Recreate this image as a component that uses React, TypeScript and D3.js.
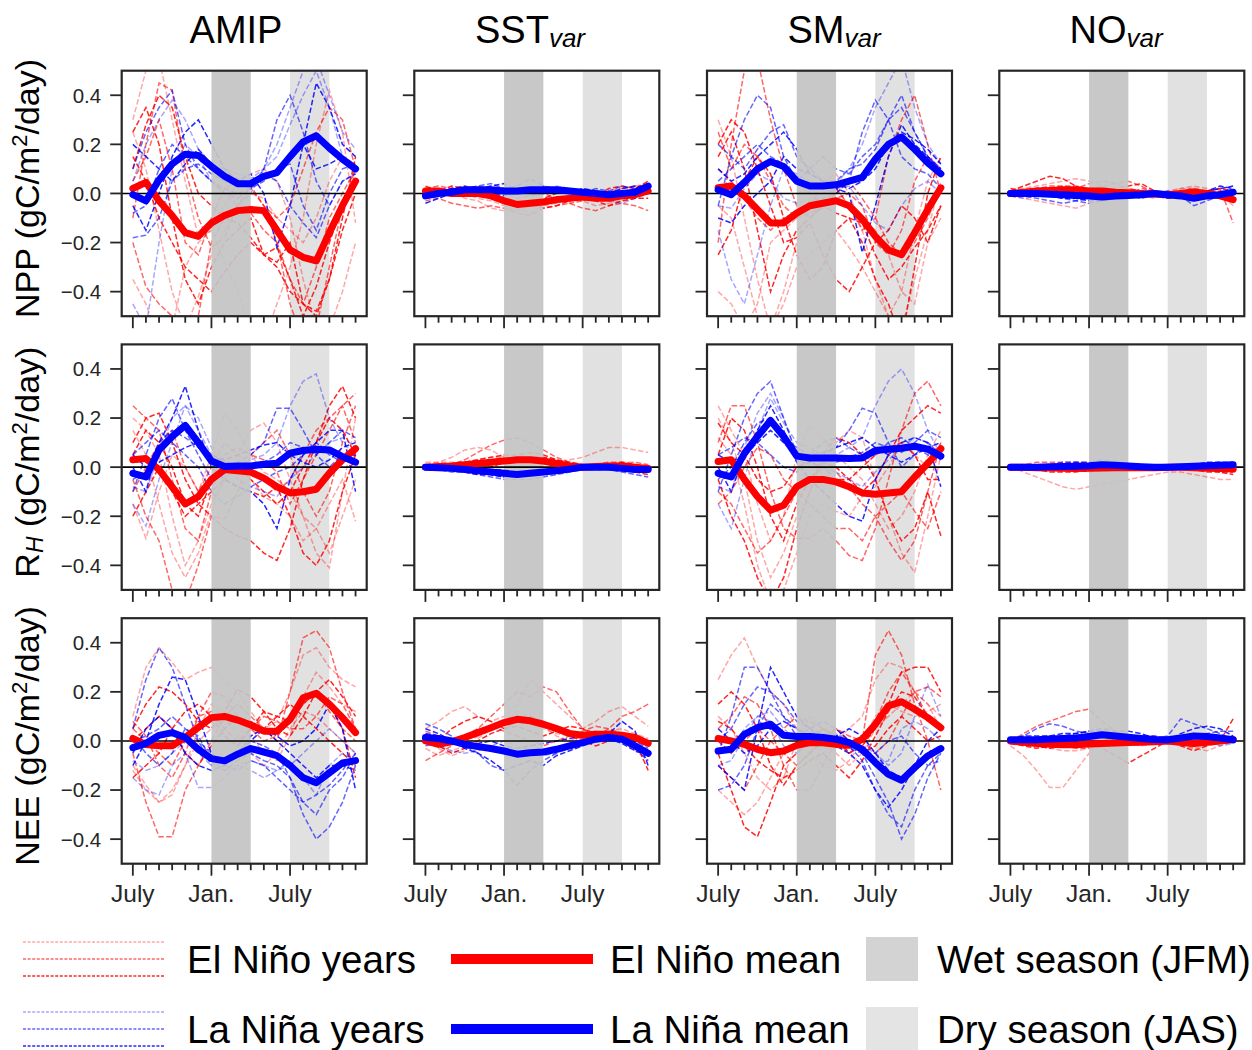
import React from 'react';
import * as d3 from 'd3';

// ---------------- DATA ----------------
const monthIndex = d3.range(18); // July .. December of following year
const xTickMonths = [0, 6, 12];
const xTickLabels = ['July', 'Jan.', 'July'];
const yTicks = [-0.4, -0.2, 0, 0.2, 0.4];
const yTickLabels = ['\u22120.4', '\u22120.2', '0.0', '0.2', '0.4'];
const wetSeason = [6, 9];
const drySeason = [12, 15];
const columnTitles = [
  { main: 'AMIP', sub: '' },
  { main: 'SST', sub: 'var' },
  { main: 'SM', sub: 'var' },
  { main: 'NO', sub: 'var' },
];
const rowLabels = [
  { main: 'NPP', sub: '' },
  { main: 'R', sub: 'H' },
  { main: 'NEE', sub: '' },
];
const legendItems = ['El Niño years', 'El Niño mean', 'Wet season (JFM)', 'La Niña years', 'La Niña mean', 'Dry season (JAS)'];

// ---- NPP ----
const nppAmipNinoMean = [0.02, 0.045, -0.03, -0.09, -0.16, -0.175, -0.12, -0.09, -0.07, -0.065, -0.07, -0.15, -0.23, -0.26, -0.275, -0.16, -0.05, 0.05];
const nppAmipNinaMean = [-0.005, -0.03, 0.055, 0.12, 0.16, 0.155, 0.11, 0.07, 0.04, 0.04, 0.07, 0.085, 0.15, 0.21, 0.235, 0.185, 0.14, 0.10];
const nppAmipNino = [
  [0.30, 0.50, 0.55, 0.30, 0.05, -0.18, -0.15, -0.28, -0.40, -0.55, -0.60, -0.45, -0.30, -0.10, 0.20, 0.42, 0.25, -0.12],
  [-0.10, 0.20, 0.45, 0.42, 0.10, -0.10, -0.22, -0.18, -0.05, 0.03, -0.05, -0.20, -0.45, -0.60, -0.55, -0.30, -0.05, 0.10],
  [0.25, 0.35, 0.20, -0.10, -0.35, -0.45, -0.30, -0.20, -0.15, -0.10, -0.25, -0.28, -0.20, -0.45, -0.50, -0.35, -0.10, 0.15],
  [-0.35, -0.45, -0.60, -0.55, -0.30, -0.20, -0.15, -0.05, 0.05, 0.08, 0.10, 0.05, -0.10, -0.35, -0.55, -0.55, -0.40, -0.20],
  [0.05, 0.15, 0.30, 0.10, -0.20, -0.25, -0.10, 0.02, 0.05, 0.02, -0.05, -0.10, -0.05, 0.10, 0.25, 0.35, 0.30, 0.10],
  [0.10, 0.28, 0.40, 0.35, 0.15, 0.00, -0.05, -0.10, -0.12, -0.18, -0.25, -0.22, -0.35, -0.50, -0.38, -0.20, -0.05, 0.05],
  [0.25, 0.10, -0.15, -0.40, -0.55, -0.42, -0.25, -0.15, -0.05, 0.00, -0.02, -0.10, -0.15, -0.20, -0.10, 0.05, 0.15, 0.12],
  [-0.20, -0.38, -0.45, -0.50, -0.60, -0.50, -0.20, -0.10, -0.05, -0.08, -0.15, -0.20, -0.35, -0.45, -0.30, -0.10, 0.00, 0.10],
  [0.15, 0.05, -0.10, -0.20, -0.30, -0.35, -0.40, -0.32, -0.25, -0.20, -0.25, -0.30, -0.40, -0.45, -0.48, -0.35, -0.15, 0.00],
];
const nppAmipNina = [
  [0.10, 0.25, 0.35, 0.42, 0.20, 0.10, 0.05, 0.00, -0.02, 0.02, 0.10, 0.30, 0.40, 0.25, 0.05, -0.05, 0.05, 0.08],
  [-0.05, -0.15, 0.00, 0.15, 0.25, 0.30, 0.20, 0.10, 0.05, 0.08, 0.00, -0.22, -0.05, 0.20, 0.45, 0.35, 0.20, 0.15],
  [-0.45, -0.55, -0.20, 0.10, 0.20, 0.15, 0.05, 0.00, -0.05, 0.00, 0.10, 0.20, 0.35, 0.50, 0.55, 0.40, 0.25, 0.18],
  [-0.18, -0.17, -0.10, 0.05, 0.10, 0.12, 0.08, 0.05, 0.03, 0.05, 0.08, 0.05, -0.05, -0.12, -0.18, -0.05, 0.05, 0.08],
  [0.20, 0.15, 0.10, 0.05, 0.12, 0.18, 0.12, 0.08, 0.06, 0.04, 0.06, 0.10, 0.15, 0.20, 0.10, 0.12, 0.15, 0.10],
  [0.05, 0.20, 0.30, 0.38, 0.30, 0.18, 0.12, 0.10, 0.08, 0.06, 0.10, 0.15, 0.28, 0.40, 0.50, 0.35, 0.15, 0.08],
  [-0.08, -0.05, 0.10, 0.20, 0.15, 0.10, 0.05, 0.02, 0.00, 0.02, 0.05, 0.10, 0.12, -0.05, -0.15, 0.00, 0.10, 0.12],
];

const nppSstNinoMean = [0.01, 0.01, 0.0, 0.0, 0.0, -0.01, -0.03, -0.045, -0.04, -0.035, -0.025, -0.02, -0.015, -0.02, -0.02, -0.01, -0.005, 0.01];
const nppSstNinaMean = [-0.01, 0.0, 0.005, 0.015, 0.015, 0.015, 0.01, 0.01, 0.015, 0.015, 0.015, 0.01, 0.005, 0.0, -0.005, 0.0, 0.005, 0.03];
const nppSstNino = [
  [0.02, 0.03, 0.02, 0.00, -0.02, -0.03, -0.05, -0.07, -0.05, -0.03, -0.04, -0.02, -0.03, -0.05, -0.04, -0.03, -0.02, 0.02],
  [-0.03, -0.02, -0.04, -0.05, -0.06, -0.05, -0.06, -0.08, -0.09, -0.06, -0.05, -0.04, -0.06, -0.07, -0.05, -0.04, -0.05, -0.07],
  [0.03, 0.01, 0.02, 0.03, 0.01, -0.02, -0.04, -0.05, -0.03, -0.02, 0.00, 0.01, 0.00, -0.01, 0.02, 0.03, 0.02, 0.05],
  [0.00, 0.02, 0.01, -0.02, -0.03, -0.06, -0.07, -0.06, -0.08, -0.05, -0.04, -0.03, -0.01, -0.02, -0.03, -0.01, 0.01, 0.03],
  [0.01, 0.00, -0.01, 0.02, 0.03, 0.02, 0.00, -0.02, -0.01, 0.00, -0.02, -0.04, -0.03, -0.01, 0.00, 0.02, 0.03, 0.01],
  [-0.01, 0.01, 0.03, 0.02, 0.00, -0.01, -0.02, -0.03, -0.04, -0.06, -0.05, -0.03, -0.02, -0.03, -0.05, -0.03, -0.02, -0.02],
  [0.02, 0.03, 0.02, 0.01, 0.00, -0.02, -0.03, -0.04, -0.03, -0.04, -0.03, -0.02, -0.01, 0.00, 0.01, 0.02, 0.03, 0.04],
];
const nppSstNina = [
  [-0.02, -0.01, 0.01, 0.02, 0.03, 0.04, 0.02, 0.03, 0.06, 0.03, 0.02, 0.01, 0.00, -0.01, -0.02, -0.01, 0.01, 0.03],
  [-0.04, -0.02, 0.00, 0.01, 0.02, 0.03, 0.04, 0.01, 0.02, 0.03, 0.01, 0.00, 0.02, 0.01, 0.00, 0.02, 0.03, 0.02],
  [0.00, 0.01, 0.02, 0.03, 0.02, 0.00, 0.01, 0.02, 0.00, 0.01, 0.03, 0.02, 0.01, -0.01, -0.03, -0.04, -0.02, 0.00],
  [-0.01, 0.02, 0.01, 0.00, 0.01, 0.02, 0.00, 0.00, 0.02, 0.02, 0.01, 0.02, 0.00, 0.02, 0.01, 0.03, 0.02, 0.04],
  [0.01, 0.00, 0.02, 0.02, 0.01, 0.00, -0.01, 0.01, 0.02, 0.02, 0.02, 0.01, 0.00, -0.01, 0.00, -0.02, 0.00, 0.01],
];

const nppSmNinoMean = [0.023, 0.03, -0.01, -0.065, -0.12, -0.12, -0.08, -0.05, -0.04, -0.03, -0.05, -0.105, -0.175, -0.23, -0.25, -0.16, -0.065, 0.023];
const nppSmNinaMean = [0.015, -0.005, 0.045, 0.10, 0.13, 0.11, 0.05, 0.03, 0.03, 0.035, 0.05, 0.065, 0.14, 0.20, 0.23, 0.18, 0.125, 0.08];
const nppSmNino = [
  [0.30, 0.15, -0.10, -0.35, -0.55, -0.45, -0.30, -0.25, -0.20, -0.15, -0.22, -0.30, -0.40, -0.50, -0.55, -0.35, -0.15, 0.05],
  [-0.20, 0.20, 0.50, 0.55, 0.30, 0.10, -0.05, -0.10, -0.05, 0.02, -0.05, -0.15, -0.10, 0.15, 0.30, 0.40, 0.20, 0.00],
  [0.15, 0.25, 0.10, -0.15, -0.40, -0.25, -0.15, -0.10, -0.05, -0.08, -0.10, -0.20, -0.35, -0.45, -0.60, -0.30, 0.00, 0.15],
  [-0.40, -0.45, -0.55, -0.45, -0.20, -0.15, -0.10, -0.05, 0.00, 0.02, -0.05, -0.10, -0.15, -0.25, -0.40, -0.45, -0.20, -0.10],
  [0.25, 0.10, 0.20, 0.15, 0.05, -0.05, -0.10, -0.08, -0.06, -0.02, 0.00, -0.05, -0.20, -0.25, -0.15, 0.05, 0.15, 0.08],
  [0.20, 0.30, 0.25, 0.10, -0.05, -0.20, -0.18, -0.12, -0.25, -0.35, -0.40, -0.30, -0.20, -0.15, -0.05, -0.10, -0.20, -0.05],
  [-0.05, -0.10, -0.30, -0.50, -0.55, -0.40, -0.20, -0.05, 0.05, 0.08, 0.00, -0.15, -0.35, -0.50, -0.40, -0.15, 0.05, 0.15],
  [0.10, 0.05, -0.02, -0.10, -0.15, -0.10, -0.08, -0.03, -0.02, 0.00, 0.05, -0.02, -0.10, -0.20, -0.25, -0.20, -0.10, 0.02],
  [-0.25, -0.15, 0.05, 0.15, 0.08, -0.10, -0.25, -0.35, -0.30, -0.15, -0.10, -0.12, -0.25, -0.35, -0.30, -0.22, -0.15, -0.05],
];
const nppSmNina = [
  [-0.05, 0.15, 0.30, 0.40, 0.35, 0.15, 0.05, 0.00, -0.05, 0.00, 0.05, 0.25, 0.38, 0.30, 0.15, 0.10, 0.08, 0.02],
  [-0.10, -0.12, -0.05, 0.00, 0.05, 0.15, 0.10, 0.08, 0.05, 0.02, 0.00, -0.24, -0.05, 0.15, 0.28, 0.20, 0.15, 0.10],
  [-0.15, -0.35, -0.45, -0.25, -0.05, 0.10, 0.08, 0.05, 0.02, 0.04, 0.10, 0.20, 0.35, 0.45, 0.55, 0.35, 0.20, 0.12],
  [0.20, 0.15, 0.10, 0.18, 0.25, 0.28, 0.15, 0.10, 0.05, 0.05, 0.10, 0.12, 0.18, 0.30, 0.40, 0.25, 0.15, 0.10],
  [0.10, 0.05, 0.08, 0.15, 0.20, 0.25, 0.18, 0.08, 0.05, 0.04, 0.02, 0.05, 0.10, 0.20, 0.25, 0.22, 0.18, 0.12],
  [-0.05, -0.06, 0.02, 0.08, 0.05, -0.02, -0.04, -0.02, 0.00, 0.02, 0.03, -0.05, -0.12, -0.15, -0.05, 0.02, 0.05, 0.00],
  [0.05, 0.10, 0.15, 0.20, 0.15, 0.12, 0.05, 0.10, 0.15, 0.10, 0.08, 0.15, 0.20, 0.30, 0.35, 0.25, 0.15, 0.08],
];

const nppNoNinoMean = [0.0, 0.005, 0.01, 0.012, 0.015, 0.015, 0.01, 0.01, 0.005, 0.003, 0.0, -0.002, -0.005, 0.0, 0.005, 0.0, -0.01, -0.025];
const nppNoNinaMean = [0.0, 0.0, 0.0, -0.003, -0.005, -0.008, -0.01, -0.015, -0.01, -0.008, -0.005, 0.0, -0.005, -0.01, -0.02, -0.01, -0.005, 0.005];
const nppNoNino = [
  [0.01, 0.02, 0.03, 0.04, 0.05, 0.06, 0.05, 0.03, 0.04, 0.02, 0.00, 0.01, 0.00, 0.02, 0.03, 0.02, 0.00, -0.05],
  [0.00, 0.01, 0.02, 0.03, 0.03, 0.02, 0.04, 0.05, 0.04, 0.05, 0.03, 0.00, -0.01, 0.01, 0.02, 0.01, 0.02, -0.12],
  [0.01, 0.03, 0.05, 0.07, 0.06, 0.03, 0.01, 0.00, 0.01, 0.02, 0.01, 0.00, -0.02, -0.01, 0.00, 0.01, 0.02, 0.01],
  [-0.01, -0.02, -0.03, -0.04, -0.05, -0.06, -0.04, -0.02, -0.01, 0.00, -0.01, -0.02, 0.00, 0.01, 0.02, 0.01, 0.00, -0.01],
  [0.00, 0.01, 0.02, 0.02, 0.03, 0.03, 0.02, 0.03, 0.01, 0.00, 0.02, 0.01, -0.01, 0.00, 0.01, -0.01, -0.02, -0.03],
  [0.02, 0.01, 0.00, 0.01, 0.02, 0.01, 0.00, 0.01, 0.02, 0.03, 0.04, 0.01, 0.00, -0.01, -0.02, 0.00, 0.01, 0.00],
  [0.00, 0.00, 0.01, 0.02, 0.00, -0.01, 0.00, 0.01, 0.00, -0.01, -0.02, -0.01, 0.01, 0.02, 0.02, 0.01, 0.00, -0.02],
];
const nppNoNina = [
  [0.00, -0.01, -0.02, -0.03, -0.04, -0.03, -0.02, -0.03, -0.02, -0.01, -0.02, 0.00, 0.01, -0.01, -0.05, -0.03, -0.01, 0.00],
  [0.00, 0.01, 0.00, -0.01, -0.02, -0.02, -0.03, -0.03, -0.02, -0.01, 0.00, 0.01, 0.00, -0.01, -0.02, 0.01, 0.03, 0.02],
  [-0.01, -0.02, -0.01, 0.00, 0.01, 0.00, -0.01, 0.00, -0.01, -0.02, -0.01, 0.00, -0.01, -0.02, -0.01, -0.01, 0.00, 0.01],
  [0.01, 0.00, -0.01, -0.01, -0.02, -0.03, -0.04, -0.03, -0.02, -0.01, 0.00, -0.01, 0.00, 0.00, -0.02, -0.02, -0.01, -0.02],
  [0.00, 0.01, 0.02, 0.02, 0.01, 0.00, 0.00, -0.01, 0.00, 0.01, 0.00, -0.01, -0.02, -0.01, 0.00, 0.01, 0.02, 0.03],
];

// ---- RH ----
const rhAmipNinoMean = [0.03, 0.035, -0.01, -0.08, -0.15, -0.12, -0.05, -0.01, -0.015, -0.02, -0.045, -0.08, -0.105, -0.10, -0.09, -0.025, 0.03, 0.075];
const rhAmipNinaMean = [-0.025, -0.04, 0.07, 0.125, 0.17, 0.10, 0.025, 0.003, 0.005, 0.005, 0.012, 0.016, 0.057, 0.068, 0.073, 0.07, 0.043, 0.02];
const rhAmipNino = [
  [0.20, 0.15, 0.05, -0.20, -0.40, -0.30, -0.15, -0.05, 0.05, 0.15, 0.18, 0.10, -0.05, -0.20, -0.35, -0.41, -0.10, 0.20],
  [-0.05, -0.20, -0.30, -0.50, -0.55, -0.40, -0.20, -0.21, -0.10, 0.05, 0.10, 0.15, 0.05, -0.10, -0.20, -0.10, 0.10, 0.25],
  [0.10, 0.20, 0.22, 0.10, -0.05, -0.15, -0.20, -0.25, -0.28, -0.30, -0.35, -0.38, -0.25, -0.05, 0.10, 0.25, 0.33, 0.20],
  [-0.15, -0.29, -0.10, 0.05, 0.00, -0.10, 0.05, 0.22, 0.15, 0.05, -0.02, -0.05, -0.10, -0.20, -0.25, -0.35, -0.20, -0.05],
  [0.25, 0.20, 0.15, -0.05, -0.25, -0.30, -0.10, 0.05, 0.08, 0.05, 0.03, -0.02, -0.15, -0.05, 0.05, 0.15, 0.25, 0.10],
  [0.05, 0.15, 0.10, 0.00, -0.15, -0.20, -0.05, 0.02, 0.00, -0.05, -0.10, -0.15, -0.10, 0.00, 0.10, 0.20, 0.15, 0.05],
  [0.15, 0.05, -0.15, -0.35, -0.45, -0.35, -0.18, -0.05, 0.00, -0.05, -0.12, -0.15, -0.20, -0.30, -0.25, -0.15, -0.05, -0.22],
  [-0.10, 0.00, 0.10, 0.15, 0.00, -0.10, 0.00, 0.10, 0.05, 0.00, -0.05, -0.10, -0.05, 0.05, 0.15, 0.20, 0.25, 0.30],
  [-0.20, -0.10, 0.00, -0.10, -0.20, -0.15, -0.10, -0.05, -0.08, -0.10, -0.12, -0.08, -0.20, -0.35, -0.40, -0.30, -0.10, 0.05],
];
const rhAmipNina = [
  [-0.10, 0.05, 0.20, 0.28, 0.15, 0.05, -0.05, -0.02, 0.02, 0.05, 0.10, 0.24, 0.24, 0.15, 0.05, 0.00, 0.05, 0.05],
  [0.00, -0.10, 0.10, 0.20, 0.33, 0.15, 0.00, -0.05, -0.08, -0.10, -0.15, -0.25, -0.05, 0.05, 0.10, 0.15, 0.15, -0.10],
  [-0.15, -0.24, -0.05, 0.10, 0.25, 0.15, 0.05, 0.02, 0.00, 0.03, 0.05, 0.10, 0.25, 0.35, 0.38, 0.20, 0.10, 0.05],
  [-0.05, -0.02, 0.10, 0.15, 0.12, 0.08, 0.05, 0.02, 0.01, 0.00, 0.02, 0.05, 0.10, 0.08, 0.05, 0.10, 0.15, 0.12],
  [0.05, 0.00, 0.02, 0.05, 0.08, 0.10, 0.05, 0.03, 0.05, 0.07, 0.09, 0.10, 0.05, 0.02, 0.00, 0.03, 0.08, 0.10],
  [-0.08, -0.10, 0.05, 0.20, 0.25, 0.20, 0.08, 0.00, -0.05, -0.08, -0.10, -0.12, -0.05, 0.00, 0.05, 0.10, 0.12, 0.08],
  [0.05, 0.10, 0.15, 0.10, 0.05, 0.00, -0.10, -0.15, -0.12, -0.08, -0.05, -0.02, 0.00, 0.05, 0.10, 0.05, 0.02, 0.05],
];

const rhSstNinoMean = [0.0, 0.003, 0.005, 0.01, 0.015, 0.02, 0.025, 0.03, 0.03, 0.025, 0.015, 0.005, 0.0, 0.003, 0.005, 0.005, 0.0, -0.005];
const rhSstNinaMean = [0.0, -0.002, -0.005, -0.01, -0.015, -0.02, -0.025, -0.03, -0.025, -0.02, -0.015, -0.008, 0.0, 0.0, 0.0, -0.005, -0.01, -0.01];
const rhSstNino = [
  [0.02, 0.02, 0.04, 0.07, 0.08, 0.07, 0.04, 0.03, 0.02, 0.01, 0.02, 0.03, 0.04, 0.06, 0.08, 0.08, 0.07, 0.06],
  [0.00, 0.00, 0.01, 0.03, 0.06, 0.09, 0.11, 0.12, 0.10, 0.07, 0.04, 0.02, 0.01, 0.01, 0.02, 0.02, 0.01, 0.00],
  [0.01, 0.01, 0.01, 0.02, 0.03, 0.04, 0.05, 0.05, 0.06, 0.05, 0.03, 0.01, 0.00, 0.01, 0.01, 0.02, 0.01, 0.00],
  [-0.01, 0.00, 0.00, 0.01, 0.02, 0.03, 0.04, 0.05, 0.04, 0.03, 0.02, 0.01, 0.00, 0.00, 0.01, 0.01, 0.02, 0.01],
  [0.00, -0.01, -0.01, 0.00, 0.01, 0.01, 0.02, 0.02, 0.03, 0.03, 0.02, 0.01, 0.00, 0.00, 0.00, -0.01, -0.01, -0.02],
  [0.00, 0.01, 0.00, -0.01, -0.01, 0.00, 0.02, 0.03, 0.04, 0.04, 0.03, 0.02, 0.01, 0.01, 0.00, 0.00, -0.02, -0.03],
  [0.01, 0.02, 0.02, 0.02, 0.03, 0.04, 0.04, 0.04, 0.03, 0.02, 0.01, 0.00, -0.01, 0.00, 0.01, 0.02, 0.02, 0.01],
];
const rhSstNina = [
  [0.00, -0.01, -0.02, -0.02, -0.03, -0.04, -0.05, -0.05, -0.05, -0.04, -0.03, -0.02, -0.01, -0.01, -0.01, -0.02, -0.03, -0.04],
  [0.01, 0.00, -0.01, -0.02, -0.03, -0.03, -0.04, -0.04, -0.03, -0.02, -0.01, 0.00, 0.00, 0.01, 0.00, -0.01, -0.02, -0.02],
  [-0.01, -0.01, -0.01, -0.01, -0.01, -0.02, -0.02, -0.03, -0.02, -0.01, -0.01, -0.01, 0.00, 0.00, 0.01, 0.00, 0.00, 0.00],
  [0.00, 0.01, 0.00, 0.00, -0.01, -0.01, -0.01, -0.02, -0.02, -0.02, -0.01, 0.00, 0.01, 0.01, 0.01, 0.01, 0.00, -0.01],
  [0.00, -0.01, -0.01, -0.02, -0.02, -0.03, -0.04, -0.04, -0.03, -0.03, -0.02, -0.01, -0.01, 0.00, 0.00, -0.01, -0.01, -0.02],
];

const rhSmNinoMean = [0.023, 0.03, -0.05, -0.12, -0.175, -0.155, -0.08, -0.05, -0.05, -0.06, -0.08, -0.105, -0.11, -0.105, -0.10, -0.04, 0.015, 0.075];
const rhSmNinaMean = [-0.025, -0.04, 0.055, 0.125, 0.19, 0.125, 0.045, 0.037, 0.037, 0.037, 0.035, 0.037, 0.068, 0.073, 0.077, 0.085, 0.073, 0.045];
const rhSmNino = [
  [0.20, 0.10, -0.05, -0.30, -0.45, -0.35, -0.20, -0.10, 0.00, 0.10, 0.15, 0.12, -0.05, -0.20, -0.35, -0.43, -0.20, 0.05],
  [0.10, 0.25, 0.25, 0.10, -0.10, -0.25, -0.29, -0.29, -0.25, -0.30, -0.36, -0.38, -0.25, -0.05, 0.15, 0.30, 0.35, 0.25],
  [-0.05, -0.20, -0.30, -0.45, -0.55, -0.45, -0.25, -0.10, 0.05, 0.12, 0.10, 0.05, -0.05, -0.20, -0.30, -0.25, -0.10, -0.28],
  [0.25, 0.15, 0.05, -0.15, -0.30, -0.20, 0.05, 0.17, 0.12, 0.05, 0.00, -0.05, -0.15, -0.25, -0.20, -0.10, 0.05, 0.15],
  [-0.15, -0.10, 0.00, 0.08, 0.05, -0.05, -0.10, -0.05, 0.00, -0.02, -0.08, -0.15, -0.20, -0.30, -0.38, -0.30, -0.10, 0.10],
  [0.05, 0.20, 0.15, 0.00, -0.20, -0.30, -0.15, -0.05, 0.02, 0.00, -0.05, -0.10, -0.05, 0.05, 0.15, 0.20, 0.25, 0.22],
  [0.12, 0.05, -0.15, -0.40, -0.55, -0.50, -0.35, -0.20, -0.15, -0.18, -0.20, -0.12, -0.08, 0.00, 0.10, 0.05, 0.00, 0.10],
  [-0.10, -0.15, -0.25, -0.35, -0.30, -0.20, -0.10, -0.15, -0.20, -0.25, -0.25, -0.30, -0.20, -0.15, -0.10, -0.18, -0.25, -0.10],
  [0.18, 0.10, 0.05, -0.05, -0.10, -0.08, 0.00, 0.02, 0.00, -0.05, -0.05, 0.00, 0.05, 0.08, 0.10, 0.05, -0.05, -0.05],
];
const rhSmNina = [
  [-0.10, 0.05, 0.20, 0.30, 0.35, 0.20, 0.05, 0.02, 0.05, 0.08, 0.15, 0.24, 0.22, 0.10, 0.00, 0.05, 0.10, 0.05],
  [0.00, -0.10, 0.05, 0.15, 0.25, 0.15, 0.02, -0.05, -0.10, -0.15, -0.20, -0.22, -0.05, 0.05, 0.10, 0.12, 0.10, -0.08],
  [-0.15, -0.25, -0.05, 0.15, 0.28, 0.18, 0.10, 0.08, 0.05, 0.05, 0.08, 0.12, 0.25, 0.35, 0.40, 0.30, 0.15, 0.05],
  [-0.05, 0.00, 0.10, 0.18, 0.20, 0.12, 0.08, 0.05, 0.03, 0.02, 0.04, 0.06, 0.10, 0.08, 0.06, 0.10, 0.15, 0.12],
  [0.05, 0.02, 0.05, 0.10, 0.15, 0.10, 0.05, 0.05, 0.06, 0.08, 0.10, 0.12, 0.08, 0.05, 0.02, 0.05, 0.08, 0.10],
  [-0.08, -0.10, 0.08, 0.22, 0.30, 0.20, 0.05, 0.02, 0.00, -0.02, -0.05, -0.08, -0.02, 0.03, 0.08, 0.12, 0.10, 0.06],
  [0.05, 0.08, 0.12, 0.10, 0.05, 0.00, -0.02, 0.05, 0.10, 0.12, 0.08, 0.05, 0.05, 0.10, 0.12, 0.08, 0.05, 0.03],
];

const rhNoNinoMean = [0.0, 0.0, -0.002, -0.003, -0.004, -0.005, -0.004, -0.003, -0.002, -0.002, -0.002, -0.002, 0.0, 0.0, -0.002, -0.004, -0.006, -0.008];
const rhNoNinaMean = [0.0, 0.0, 0.0, 0.002, 0.003, 0.004, 0.006, 0.01, 0.008, 0.005, 0.002, 0.0, 0.0, 0.002, 0.004, 0.006, 0.008, 0.01];
const rhNoNino = [
  [0.00, -0.02, -0.04, -0.06, -0.08, -0.09, -0.08, -0.07, -0.06, -0.05, -0.04, -0.03, -0.02, -0.02, -0.03, -0.04, -0.05, -0.05],
  [0.01, 0.01, 0.02, 0.02, 0.02, 0.02, 0.02, 0.02, 0.01, 0.01, 0.00, 0.00, 0.00, 0.00, 0.00, -0.01, -0.01, -0.01],
  [0.00, 0.00, -0.01, -0.01, -0.01, -0.01, -0.02, -0.01, -0.01, 0.00, 0.00, 0.00, 0.00, -0.01, -0.01, -0.02, -0.02, -0.02],
  [-0.01, 0.00, 0.00, 0.01, 0.01, 0.01, 0.00, 0.00, 0.00, -0.01, -0.01, 0.00, 0.00, 0.00, 0.01, 0.00, -0.01, -0.02],
  [0.00, 0.00, 0.00, 0.00, -0.01, -0.01, -0.01, -0.02, -0.01, -0.01, 0.00, 0.00, 0.01, 0.00, 0.00, 0.00, 0.00, 0.00],
  [0.00, -0.01, -0.01, -0.02, -0.02, -0.02, -0.01, 0.00, 0.00, 0.00, -0.01, -0.01, 0.00, 0.00, -0.01, -0.01, -0.02, -0.03],
  [0.00, 0.01, 0.01, 0.00, 0.00, 0.00, 0.01, 0.01, 0.01, 0.00, 0.00, 0.00, 0.00, 0.01, 0.01, 0.01, 0.00, -0.01],
];
const rhNoNina = [
  [0.00, 0.00, 0.01, 0.01, 0.01, 0.02, 0.02, 0.03, 0.02, 0.01, 0.01, 0.00, 0.00, 0.00, 0.01, 0.01, 0.02, 0.02],
  [0.00, 0.00, 0.00, 0.00, 0.00, 0.00, 0.01, 0.01, 0.01, 0.00, 0.00, 0.00, 0.00, 0.01, 0.01, 0.02, 0.02, 0.01],
  [0.01, 0.00, -0.01, -0.01, -0.01, 0.00, 0.00, 0.01, 0.01, 0.01, 0.00, -0.01, 0.00, 0.00, 0.00, 0.00, 0.01, 0.02],
  [0.00, 0.01, 0.01, 0.01, 0.02, 0.02, 0.01, 0.01, 0.00, 0.00, 0.00, 0.00, 0.01, 0.00, 0.00, 0.01, 0.00, 0.00],
  [0.00, 0.00, 0.00, 0.01, 0.00, 0.00, 0.00, 0.01, 0.01, 0.01, 0.01, 0.01, 0.00, 0.00, 0.01, 0.00, 0.00, 0.01],
];

// ---- NEE ----
const neeAmipNinoMean = [0.01, -0.015, -0.02, -0.02, 0.015, 0.055, 0.095, 0.10, 0.085, 0.065, 0.04, 0.04, 0.088, 0.176, 0.194, 0.15, 0.095, 0.034];
const neeAmipNinaMean = [-0.027, -0.01, 0.023, 0.034, 0.014, -0.034, -0.072, -0.081, -0.054, -0.031, -0.045, -0.06, -0.10, -0.15, -0.17, -0.13, -0.09, -0.08];
const neeAmipNino = [
  [0.10, 0.30, 0.38, 0.32, 0.25, 0.28, 0.30, 0.25, 0.20, 0.12, 0.05, 0.08, 0.20, 0.35, 0.38, 0.30, 0.25, 0.22],
  [-0.05, -0.25, -0.39, -0.39, -0.20, -0.10, 0.00, 0.10, 0.15, 0.10, 0.05, 0.00, 0.20, 0.42, 0.45, 0.38, 0.20, 0.05],
  [0.05, 0.15, 0.22, 0.20, 0.15, 0.08, 0.05, 0.12, 0.21, 0.18, 0.12, 0.05, 0.02, 0.10, 0.20, 0.25, 0.18, 0.10],
  [-0.10, -0.18, -0.25, -0.22, -0.10, 0.05, 0.15, 0.10, 0.02, -0.05, -0.10, -0.05, 0.05, 0.12, 0.10, 0.05, 0.00, -0.05],
  [0.08, 0.02, -0.10, -0.15, -0.05, 0.10, 0.20, 0.18, 0.10, 0.05, 0.00, 0.02, 0.08, 0.15, 0.20, 0.12, 0.05, 0.00],
  [0.00, 0.05, 0.10, 0.05, -0.05, -0.10, -0.02, 0.05, 0.10, 0.08, 0.05, 0.10, 0.15, 0.10, 0.05, 0.00, -0.05, -0.10],
  [-0.12, -0.20, -0.25, -0.20, -0.10, 0.00, 0.05, 0.08, 0.05, 0.02, -0.05, -0.08, 0.02, 0.18, 0.28, 0.22, 0.15, 0.12],
  [0.05, 0.00, -0.05, -0.10, 0.00, 0.10, 0.12, 0.05, 0.00, 0.05, 0.10, 0.08, 0.05, 0.05, 0.10, 0.18, 0.15, 0.05],
  [-0.15, -0.10, -0.05, 0.05, 0.12, 0.15, 0.10, 0.02, -0.02, 0.05, 0.12, 0.10, 0.08, 0.15, 0.20, 0.15, 0.05, -0.15],
];
const neeAmipNina = [
  [0.05, 0.25, 0.38, 0.30, 0.15, 0.00, -0.10, -0.08, -0.05, 0.00, -0.02, -0.05, -0.15, -0.30, -0.40, -0.35, -0.25, -0.10],
  [-0.10, 0.00, 0.15, 0.26, 0.25, 0.10, -0.05, -0.10, -0.05, 0.00, 0.05, 0.02, -0.02, 0.00, 0.05, 0.15, 0.05, -0.20],
  [-0.15, -0.20, -0.22, -0.10, -0.05, -0.19, -0.19, -0.15, -0.10, -0.12, -0.15, -0.12, -0.08, -0.15, -0.22, -0.10, -0.05, -0.08],
  [0.02, -0.05, -0.10, -0.05, 0.05, 0.02, -0.08, -0.12, -0.08, -0.05, -0.08, -0.10, -0.15, -0.25, -0.30, -0.20, -0.15, -0.05],
  [-0.05, 0.05, 0.10, 0.05, -0.05, -0.10, -0.12, -0.10, -0.05, 0.02, 0.05, 0.00, -0.05, -0.10, -0.15, -0.10, -0.10, -0.12],
  [-0.08, -0.12, -0.10, -0.05, 0.00, -0.05, -0.10, -0.12, -0.10, -0.08, -0.10, -0.12, -0.10, -0.05, 0.00, 0.05, 0.00, -0.05],
  [0.00, 0.02, 0.05, 0.10, 0.05, 0.00, -0.05, -0.10, -0.12, -0.08, -0.10, -0.15, -0.20, -0.25, -0.22, -0.18, -0.12, -0.05],
];

const neeSstNinoMean = [0.0, -0.014, -0.004, 0.014, 0.034, 0.054, 0.075, 0.088, 0.082, 0.068, 0.05, 0.031, 0.023, 0.027, 0.027, 0.023, 0.014, -0.01];
const neeSstNinaMean = [0.014, 0.01, 0.0, -0.014, -0.023, -0.031, -0.041, -0.054, -0.048, -0.045, -0.034, -0.02, -0.007, 0.007, 0.014, 0.007, -0.02, -0.05];
const neeSstNino = [
  [0.05, 0.08, 0.12, 0.14, 0.10, 0.08, 0.10, 0.15, 0.25, 0.20, 0.15, 0.10, 0.05, 0.08, 0.12, 0.14, 0.10, 0.06],
  [-0.08, -0.05, -0.02, 0.02, 0.05, 0.10, 0.15, 0.20, 0.18, 0.22, 0.20, 0.12, 0.05, 0.02, 0.05, 0.10, 0.12, 0.15],
  [0.02, 0.00, 0.05, 0.08, 0.10, 0.08, 0.05, 0.08, 0.10, 0.08, 0.05, 0.02, 0.00, -0.02, 0.00, 0.02, 0.00, -0.12],
  [-0.03, -0.06, -0.04, -0.02, 0.02, 0.05, 0.08, 0.12, 0.10, 0.06, 0.02, 0.00, 0.02, 0.04, 0.03, 0.00, -0.04, -0.08],
  [0.04, 0.02, 0.00, 0.02, 0.04, 0.06, 0.04, 0.02, 0.00, -0.02, 0.00, 0.02, 0.04, 0.06, 0.05, 0.03, 0.02, 0.00],
  [0.00, -0.02, -0.05, -0.03, 0.00, 0.03, 0.05, 0.06, 0.04, 0.02, 0.04, 0.06, 0.05, 0.03, 0.01, 0.00, -0.02, -0.05],
  [0.01, -0.03, -0.06, -0.04, 0.01, 0.05, 0.08, 0.10, 0.08, 0.05, 0.03, 0.02, 0.01, 0.02, 0.04, 0.05, 0.03, 0.01],
];
const neeSstNina = [
  [0.07, 0.05, 0.02, -0.02, -0.05, -0.10, -0.12, -0.18, -0.12, -0.08, -0.05, -0.02, 0.00, 0.02, 0.04, 0.02, -0.03, -0.08],
  [0.03, 0.02, 0.00, -0.03, -0.05, -0.08, -0.12, -0.10, -0.08, -0.10, -0.06, -0.04, -0.02, 0.00, 0.03, 0.08, 0.04, -0.10],
  [0.00, -0.02, -0.04, -0.05, -0.04, -0.02, 0.00, -0.02, -0.04, -0.06, -0.05, -0.03, -0.01, 0.01, 0.02, 0.00, -0.02, -0.04],
  [-0.02, -0.01, 0.01, 0.00, -0.02, -0.04, -0.05, -0.06, -0.05, -0.04, -0.03, -0.02, 0.00, 0.02, 0.03, 0.02, 0.00, -0.03],
  [0.05, 0.03, 0.00, -0.02, -0.01, 0.00, -0.02, -0.03, -0.02, -0.01, 0.00, 0.01, 0.02, 0.03, 0.01, -0.01, -0.04, -0.06],
];

const neeSmNinoMean = [0.01, 0.0, -0.014, -0.034, -0.048, -0.041, -0.018, -0.007, -0.007, -0.014, -0.018, 0.007, 0.068, 0.143, 0.16, 0.129, 0.095, 0.054];
const neeSmNinaMean = [-0.041, -0.034, 0.027, 0.054, 0.068, 0.023, 0.018, 0.018, 0.014, 0.007, -0.007, -0.034, -0.088, -0.136, -0.16, -0.109, -0.061, -0.031];
const neeSmNino = [
  [0.25, 0.35, 0.42, 0.30, 0.20, 0.15, 0.05, 0.00, -0.05, 0.00, 0.05, 0.10, 0.25, 0.32, 0.30, 0.20, 0.15, 0.10],
  [0.05, 0.10, 0.18, 0.15, 0.05, -0.10, -0.20, -0.20, -0.10, 0.00, -0.05, 0.00, 0.35, 0.45, 0.35, 0.15, 0.00, -0.20],
  [-0.05, -0.20, -0.35, -0.39, -0.25, -0.10, -0.05, 0.00, 0.05, 0.02, -0.05, -0.02, 0.05, 0.15, 0.28, 0.30, 0.30, 0.20],
  [0.10, 0.05, -0.05, -0.15, -0.20, -0.15, 0.00, 0.10, 0.05, -0.05, -0.10, -0.05, 0.05, 0.10, 0.15, 0.20, 0.15, 0.05],
  [-0.10, -0.15, -0.20, -0.10, 0.00, 0.05, 0.10, 0.08, 0.05, 0.02, -0.02, 0.00, 0.08, 0.20, 0.28, 0.20, 0.10, 0.05],
  [0.15, 0.20, 0.15, 0.05, -0.10, -0.18, -0.10, -0.05, 0.00, 0.05, 0.00, -0.05, -0.02, 0.05, 0.10, 0.05, 0.00, 0.02],
  [-0.20, -0.25, -0.30, -0.25, -0.15, -0.05, 0.00, -0.05, -0.10, -0.12, -0.08, 0.00, 0.10, 0.15, 0.12, 0.10, 0.12, 0.15],
  [0.00, -0.05, 0.00, 0.05, 0.00, -0.05, -0.10, -0.05, 0.02, 0.05, 0.02, 0.00, -0.05, 0.00, 0.10, 0.20, 0.22, 0.18],
  [0.08, 0.05, -0.02, -0.08, -0.12, -0.15, -0.12, -0.08, -0.05, -0.10, -0.15, -0.08, 0.02, 0.12, 0.20, 0.18, 0.10, 0.05],
];
const neeSmNina = [
  [-0.05, 0.10, 0.30, 0.30, 0.20, 0.10, 0.02, 0.05, 0.08, 0.05, 0.00, -0.05, -0.15, -0.25, -0.40, -0.30, -0.15, -0.05],
  [-0.10, -0.15, -0.20, 0.05, 0.30, 0.20, 0.10, 0.05, 0.00, -0.02, -0.05, -0.10, -0.20, -0.27, -0.20, -0.10, 0.00, 0.05],
  [0.00, -0.05, 0.05, 0.10, 0.08, -0.02, -0.05, 0.00, 0.05, 0.03, 0.00, -0.02, -0.05, -0.10, -0.05, 0.10, 0.23, 0.10],
  [-0.20, -0.18, -0.10, 0.05, 0.15, 0.10, 0.05, 0.02, 0.00, 0.00, -0.02, -0.08, -0.20, -0.30, -0.35, -0.20, -0.10, -0.05],
  [0.05, 0.00, -0.05, -0.02, 0.05, 0.08, 0.05, 0.02, 0.00, 0.02, 0.05, 0.02, -0.05, -0.12, -0.15, -0.10, -0.05, -0.02],
  [-0.10, -0.08, 0.02, 0.10, 0.12, 0.05, 0.00, -0.02, 0.00, 0.02, 0.00, -0.05, -0.10, -0.08, 0.05, 0.08, 0.05, 0.00],
  [0.00, 0.05, 0.15, 0.22, 0.20, 0.15, 0.08, 0.05, 0.03, 0.00, -0.03, -0.05, -0.05, 0.00, 0.02, -0.05, -0.10, -0.08],
];

const neeNoNinoMean = [0.0, -0.005, -0.01, -0.013, -0.015, -0.015, -0.012, -0.01, -0.008, -0.006, -0.005, -0.003, 0.0, -0.005, -0.01, -0.005, 0.0, 0.005];
const neeNoNinaMean = [0.005, 0.005, 0.005, 0.008, 0.01, 0.012, 0.018, 0.025, 0.02, 0.015, 0.01, 0.006, 0.005, 0.012, 0.02, 0.018, 0.012, 0.005];
const neeNoNino = [
  [-0.02, -0.06, -0.12, -0.19, -0.19, -0.12, -0.05, 0.01, 0.00, -0.01, -0.02, -0.01, 0.00, -0.02, -0.03, -0.02, -0.01, 0.00],
  [0.00, 0.03, 0.06, 0.08, 0.10, 0.12, 0.13, 0.08, 0.04, 0.02, 0.01, 0.00, 0.01, 0.02, 0.03, 0.02, 0.01, 0.02],
  [0.00, -0.01, -0.02, -0.03, -0.02, -0.02, -0.01, -0.03, -0.06, -0.09, -0.06, -0.03, 0.00, -0.02, -0.04, -0.02, 0.00, 0.09],
  [0.01, 0.00, -0.02, -0.03, -0.04, -0.04, -0.03, -0.02, -0.02, -0.01, -0.01, 0.00, 0.01, -0.01, -0.03, -0.04, -0.02, 0.00],
  [0.00, 0.01, 0.00, -0.01, -0.02, -0.03, -0.03, -0.02, -0.01, 0.00, 0.00, 0.01, 0.00, -0.02, -0.02, -0.01, 0.00, 0.01],
  [-0.01, -0.02, -0.03, -0.02, -0.02, -0.02, -0.01, -0.01, -0.01, 0.00, -0.01, -0.01, -0.01, -0.01, -0.02, -0.01, -0.01, 0.00],
  [0.00, 0.00, -0.01, -0.01, -0.01, 0.00, -0.01, -0.02, -0.01, -0.01, 0.00, 0.00, 0.00, 0.00, -0.01, 0.00, 0.01, 0.01],
];
const neeNoNina = [
  [0.00, 0.02, 0.05, 0.07, 0.06, 0.04, 0.03, 0.03, 0.02, 0.01, 0.00, 0.01, 0.02, 0.09, 0.07, 0.05, 0.03, 0.00],
  [0.01, 0.00, 0.00, 0.01, 0.02, 0.03, 0.04, 0.05, 0.04, 0.04, 0.03, 0.01, 0.00, 0.03, 0.05, 0.06, 0.05, 0.02],
  [0.01, 0.00, -0.01, -0.01, -0.02, -0.01, 0.00, 0.01, 0.02, 0.01, 0.00, -0.01, 0.00, 0.02, 0.03, 0.00, -0.02, -0.01],
  [0.00, 0.01, 0.01, 0.02, 0.01, 0.00, -0.01, 0.00, 0.01, 0.02, 0.02, 0.01, 0.00, 0.00, 0.01, 0.03, 0.04, 0.04],
  [0.01, 0.02, 0.02, 0.02, 0.03, 0.03, 0.04, 0.04, 0.03, 0.02, 0.02, 0.02, 0.01, 0.02, 0.02, 0.02, 0.01, 0.00],
];

// grid of panels [row][col]
const panels = [
  [
    { nino: nppAmipNino, nina: nppAmipNina, ninoMean: nppAmipNinoMean, ninaMean: nppAmipNinaMean },
    { nino: nppSstNino, nina: nppSstNina, ninoMean: nppSstNinoMean, ninaMean: nppSstNinaMean },
    { nino: nppSmNino, nina: nppSmNina, ninoMean: nppSmNinoMean, ninaMean: nppSmNinaMean },
    { nino: nppNoNino, nina: nppNoNina, ninoMean: nppNoNinoMean, ninaMean: nppNoNinaMean },
  ],
  [
    { nino: rhAmipNino, nina: rhAmipNina, ninoMean: rhAmipNinoMean, ninaMean: rhAmipNinaMean },
    { nino: rhSstNino, nina: rhSstNina, ninoMean: rhSstNinoMean, ninaMean: rhSstNinaMean },
    { nino: rhSmNino, nina: rhSmNina, ninoMean: rhSmNinoMean, ninaMean: rhSmNinaMean },
    { nino: rhNoNino, nina: rhNoNina, ninoMean: rhNoNinoMean, ninaMean: rhNoNinaMean },
  ],
  [
    { nino: neeAmipNino, nina: neeAmipNina, ninoMean: neeAmipNinoMean, ninaMean: neeAmipNinaMean },
    { nino: neeSstNino, nina: neeSstNina, ninoMean: neeSstNinoMean, ninaMean: neeSstNinaMean },
    { nino: neeSmNino, nina: neeSmNina, ninoMean: neeSmNinoMean, ninaMean: neeSmNinaMean },
    { nino: neeNoNino, nina: neeNoNina, ninoMean: neeNoNinoMean, ninaMean: neeNoNinaMean },
  ],
];

// ---------------- LAYOUT / STYLE ----------------
const FONT = '"Liberation Sans", Arial, Helvetica, sans-serif';
const PW = 245;
const PH = 245.5;
const colLeft = [121.7, 414.3, 707, 999.3];
const rowTop = [70.7, 344.4, 618.2];
const titleCenter = [236, 530, 834, 1116];
const SPINE = '#262626';
const RED = '#ff0000';
const BLUE = '#0000ff';
const WET = '#c4c4c4';
const DRY = '#e1e1e1';
const alphas = [0.35, 0.6, 0.85];

function Panel({ r, c }: { r: number; c: number }) {
  const left = colLeft[c];
  const top = rowTop[r];
  const x = d3.scaleLinear().domain([-0.85, 17.85]).range([left, left + PW]);
  const y = d3.scaleLinear().domain([-0.5, 0.5]).range([top + PH, top]);
  const line = d3
    .line<number>()
    .x((_, i) => x(monthIndex[i]))
    .y((d) => y(d));
  const p = panels[r][c];
  const clipId = `clip-${r}-${c}`;
  const bottom = top + PH;
  return (
    <g>
      <defs>
        <clipPath id={clipId}>
          <rect x={left} y={top} width={PW} height={PH} />
        </clipPath>
      </defs>
      <g clipPath={`url(#${clipId})`}>
        <rect x={x(drySeason[0])} y={top} width={x(drySeason[1]) - x(drySeason[0])} height={PH} fill={DRY} />
        {p.nino.map((s, i) => (
          <path key={'n' + i} d={line(s) || ''} fill="none" stroke={RED} strokeOpacity={alphas[i % 3]} strokeWidth={1.5} strokeDasharray="5.5,2.4" />
        ))}
        {p.nina.map((s, i) => (
          <path key={'a' + i} d={line(s) || ''} fill="none" stroke={BLUE} strokeOpacity={alphas[(i + 1) % 3]} strokeWidth={1.5} strokeDasharray="5.5,2.4" />
        ))}
        <rect x={x(wetSeason[0])} y={top} width={x(wetSeason[1]) - x(wetSeason[0])} height={PH} fill={WET} fillOpacity={0.93} />
        <line x1={left} x2={left + PW} y1={y(0)} y2={y(0)} stroke="#000" strokeWidth={1.6} />
        <path d={line(p.ninoMean) || ''} fill="none" stroke={RED} strokeWidth={7} strokeLinejoin="round" strokeLinecap="round" />
        <path d={line(p.ninaMean) || ''} fill="none" stroke={BLUE} strokeWidth={7} strokeLinejoin="round" strokeLinecap="round" />
      </g>
      <rect x={left} y={top} width={PW} height={PH} fill="none" stroke={SPINE} strokeWidth={2.2} />
      {yTicks.map((t, i) => (
        <g key={'yt' + i}>
          <line x1={left - 11.5} x2={left} y1={y(t)} y2={y(t)} stroke={SPINE} strokeWidth={1.8} />
          {c === 0 && (
            <text x={left - 20.5} y={y(t)} dy="0.36em" textAnchor="end" fontSize={20.5} fontFamily={FONT} fill="#262626">
              {yTickLabels[i]}
            </text>
          )}
        </g>
      ))}
      {monthIndex.map((m) => {
        const major = xTickMonths.indexOf(m) >= 0;
        return <line key={'xt' + m} x1={x(m)} x2={x(m)} y1={bottom} y2={bottom + (major ? 12 : 6.5)} stroke={SPINE} strokeWidth={1.8} />;
      })}
      {r === 2 &&
        xTickMonths.map((m, i) => (
          <text key={'xl' + i} x={x(m)} y={bottom + 38} textAnchor="middle" fontSize={24.5} fontFamily={FONT} fill="#262626">
            {xTickLabels[i]}
          </text>
        ))}
    </g>
  );
}

function Legend() {
  const rows = [
    { yc: 959, color: RED, label: 0, mean: 1, patch: 2, patchColor: '#d3d3d3' },
    { yc: 1029, color: BLUE, label: 3, mean: 4, patch: 5, patchColor: '#e4e4e4' },
  ];
  return (
    <g fontFamily={FONT} fontSize={38.5} fill="#000">
      {rows.map((rw, k) => (
        <g key={k}>
          {[-17, 0, 17].map((dy, j) => (
            <line key={j} x1={23} x2={165} y1={rw.yc + dy} y2={rw.yc + dy} stroke={rw.color} strokeOpacity={alphas[j]} strokeWidth={1.6} strokeDasharray="3,1.6" />
          ))}
          <text x={187} y={rw.yc} dy="0.36em">{legendItems[rw.label]}</text>
          <line x1={451} x2={593} y1={rw.yc} y2={rw.yc} stroke={rw.color} strokeWidth={10} />
          <text x={610} y={rw.yc} dy="0.36em">{legendItems[rw.mean]}</text>
          <rect x={866} y={rw.yc - 22} width={52} height={44} fill={rw.patchColor} />
          <text x={937} y={rw.yc} dy="0.36em">{legendItems[rw.patch]}</text>
        </g>
      ))}
    </g>
  );
}

export default function App() {
  return (
    <svg width={1252} height={1050} style={{ position: 'absolute', left: 0, top: 0, background: '#fff' }}>
      <rect x={0} y={0} width={1252} height={1050} fill="#fff" />
      {columnTitles.map((t, c) => (
        <text key={'t' + c} x={titleCenter[c]} y={43} textAnchor="middle" fontSize={38} fontFamily={FONT} fill="#000">
          {t.main}
          {t.sub && (
            <tspan fontStyle="italic" fontSize={26} dy={4}>
              {t.sub}
            </tspan>
          )}
        </text>
      ))}
      {rowLabels.map((l, r) => {
        const cy = rowTop[r] + PH / 2 - 5;
        return (
          <text key={'rl' + r} transform={`translate(39,${cy}) rotate(-90)`} textAnchor="middle" fontSize={34} fontFamily={FONT} fill="#000">
            {l.main}
            {l.sub && (
              <tspan fontStyle="italic" fontSize={23} dy={4}>
                {l.sub}
              </tspan>
            )}
            <tspan dy={l.sub ? -4 : 0}> (gC/m</tspan>
            <tspan fontSize={22} dy={-12}>2</tspan>
            <tspan dy={12}>/day)</tspan>
          </text>
        );
      })}
      {panels.map((row, r) => row.map((_, c) => <Panel key={`${r}-${c}`} r={r} c={c} />))}
      <Legend />
    </svg>
  );
}
